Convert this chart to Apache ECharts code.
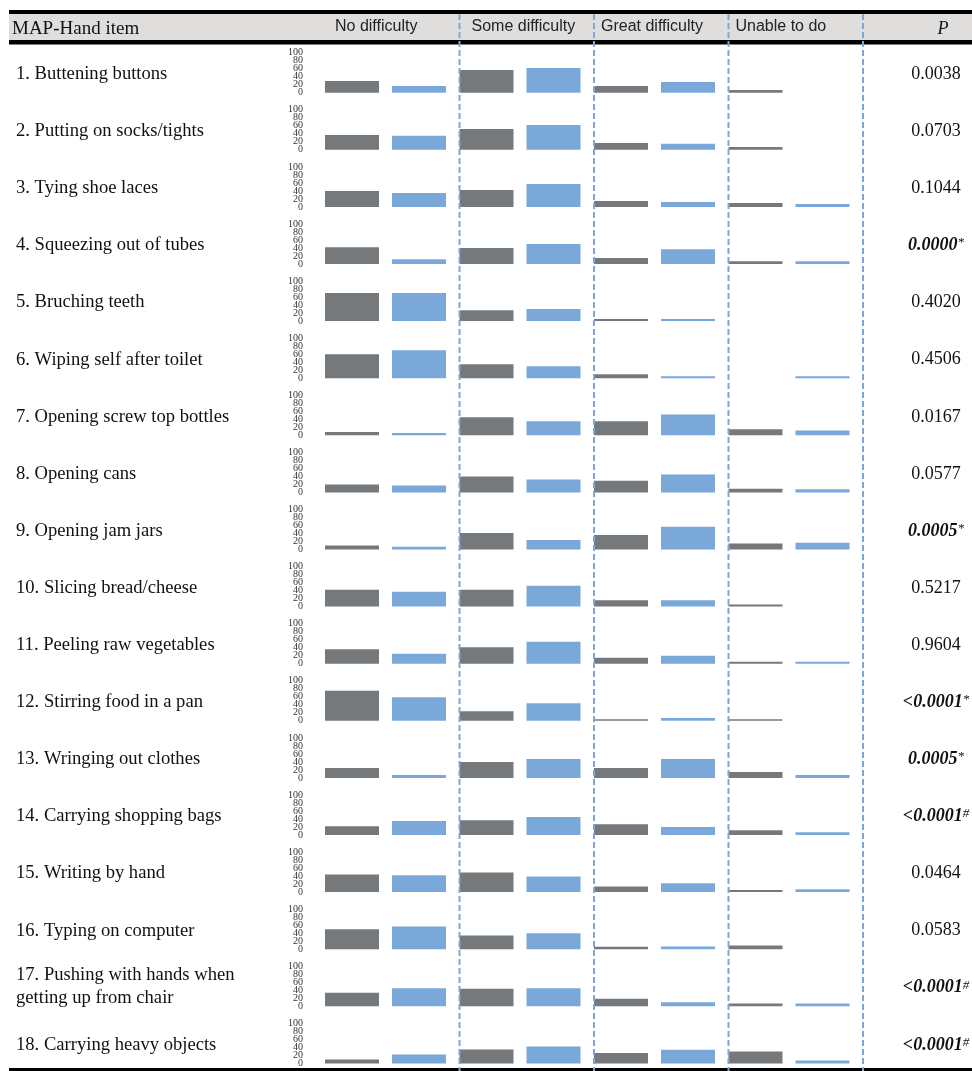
<!DOCTYPE html>
<html>
<head>
<meta charset="utf-8">
<script src="https://cdn.jsdelivr.net/npm/echarts@6/dist/echarts.min.js"></script>
<style>
  html, body { margin: 0; padding: 0; background: #fff; }
  #chart { width: 972px; height: 1071px; }
</style>
</head>
<body>
<div id="chart"></div>
<script>
// ---- data ----
const categories = ['No difficulty', 'Some difficulty', 'Great difficulty', 'Unable to do'];

const items = [
  '1. Buttening buttons',
  '2. Putting on socks/tights',
  '3. Tying shoe laces',
  '4. Squeezing out of tubes',
  '5. Bruching teeth',
  '6. Wiping self after toilet',
  '7. Opening screw top bottles',
  '8. Opening cans',
  '9. Opening jam jars',
  '10. Slicing bread/cheese',
  '11. Peeling raw vegetables',
  '12. Stirring food in a pan',
  '13. Wringing out clothes',
  '14. Carrying shopping bags',
  '15. Writing by hand',
  '16. Typing on computer',
  '17. Pushing with hands when\ngetting up from chair',
  '18. Carrying heavy objects'
];

// percentage per difficulty level, first group (grey)
const greyValues = [
  [29, 57, 17, 7],
  [37, 52, 17, 7],
  [40, 42, 15, 10],
  [42, 40, 15, 7],
  [70, 27, 5, 0],
  [60, 35, 10, 0],
  [8, 45, 35, 15],
  [20, 40, 29, 9],
  [10, 41, 36, 15],
  [42, 42, 16, 5],
  [36, 41, 15, 5],
  [75, 24, 4, 4],
  [25, 40, 25, 15],
  [22, 37, 27, 12],
  [44, 49, 14, 5],
  [50, 34, 6, 9],
  [34, 44, 19, 7],
  [10, 35, 26, 30]
];

// percentage per difficulty level, second group (blue)
const blueValues = [
  [17, 62, 27, 0],
  [35, 62, 15, 0],
  [35, 57, 12, 7],
  [12, 50, 37, 7],
  [70, 30, 5, 0],
  [70, 30, 5, 5],
  [6, 35, 52, 12],
  [17, 32, 45, 8],
  [7, 24, 57, 17],
  [37, 52, 16, 0],
  [25, 55, 20, 5],
  [59, 44, 7, 0],
  [7, 47, 47, 7],
  [35, 45, 20, 7],
  [42, 39, 22, 7],
  [57, 40, 7, 0],
  [45, 45, 10, 7],
  [22, 42, 34, 7]
];

const pValues = [
  '0.0038', '0.0703', '0.1044', '0.0000', '0.4020', '0.4506',
  '0.0167', '0.0577', '0.0005', '0.5217', '0.9604', '<0.0001',
  '0.0005', '<0.0001', '0.0464', '0.0583', '<0.0001', '<0.0001'
];
// significance marker ('' = not significant)
const pMarks = [
  '', '', '', '*', '', '',
  '', '', '*', '', '', '*',
  '*', '#', '', '', '#', '#'
];

const yTicks = [0, 20, 40, 60, 80, 100];

// ---- layout ----
const W = 972;
const TABLE_LEFT = 9;
const PLOT_LEFT = 325;        // left edge of first bar
const CELL = 134.5;           // width of one difficulty column
const BAR_W = 54;
const BAR_GAP = 13;
const FIRST_BASE = 92.7;      // zero line of first mini chart
const ROW_PITCH = 57.1;
const PLOT_H = 40;
const TICK_RIGHT = 303;       // right edge of the small tick labels
const GRID_LEFT = PLOT_LEFT - (CELL - (2 * BAR_W + BAR_GAP)) / 2;
const GREY = '#76797c';
const BLUE = '#7aa8d9';
const SERIF = '"Liberation Serif", "Times New Roman", serif';
const SANS = '"Liberation Sans", Arial, sans-serif';

const grids = [], xAxes = [], yAxes = [], series = [];
items.forEach(function (name, i) {
  const base = FIRST_BASE + i * ROW_PITCH;
  grids.push({ left: GRID_LEFT, top: base - PLOT_H, width: CELL * 4, height: PLOT_H });
  xAxes.push({
    type: 'category', gridIndex: i, data: categories,
    axisLine: { show: false }, axisTick: { show: false }, axisLabel: { show: false }
  });
  yAxes.push({
    type: 'value', gridIndex: i, min: yTicks[0], max: yTicks[yTicks.length - 1],
    interval: yTicks[1] - yTicks[0],
    axisLine: { show: false }, axisTick: { show: false }, splitLine: { show: false },
    axisLabel: { show: false }
  });
  series.push({
    type: 'bar', name: 'Group 1', xAxisIndex: i, yAxisIndex: i,
    data: greyValues[i], barWidth: BAR_W, barGap: (BAR_GAP / BAR_W * 100) + '%',
    itemStyle: { color: GREY }
  });
  series.push({
    type: 'bar', name: 'Group 2', xAxisIndex: i, yAxisIndex: i,
    data: blueValues[i], barWidth: BAR_W, barGap: (BAR_GAP / BAR_W * 100) + '%',
    itemStyle: { color: BLUE }
  });
});

const chart = echarts.init(document.getElementById('chart'), null, { renderer: 'canvas' });
chart.setOption({
  animation: false,
  backgroundColor: '#fff',
  grid: grids,
  xAxis: xAxes,
  yAxis: yAxes,
  series: series
});

// ---- table frame, headers, row labels, tick labels and P column ----
const graphics = [];
graphics.push({ type: 'rect', shape: { x: TABLE_LEFT, y: 14, width: W - TABLE_LEFT, height: 26 }, style: { fill: '#dfdedd' }, z: 1 });
graphics.push({ type: 'rect', shape: { x: TABLE_LEFT, y: 10, width: W - TABLE_LEFT, height: 4 }, style: { fill: '#000' }, z: 2 });
graphics.push({ type: 'rect', shape: { x: TABLE_LEFT, y: 40, width: W - TABLE_LEFT, height: 4.5 }, style: { fill: '#000' }, z: 2 });
graphics.push({ type: 'rect', shape: { x: TABLE_LEFT, y: 1068, width: W - TABLE_LEFT, height: 3 }, style: { fill: '#000' }, z: 2 });

for (let k = 1; k <= 4; k++) {
  const x = PLOT_LEFT + k * CELL;
  graphics.push({
    type: 'line', shape: { x1: x, y1: 14, x2: x, y2: 1071 },
    style: { stroke: BLUE, lineWidth: 2, lineDash: [6, 3] }, z: 10
  });
}

graphics.push({
  type: 'text', x: 12, y: 29, z: 5,
  style: { text: 'MAP-Hand item', font: '19px ' + SERIF, fill: '#111', align: 'left', verticalAlign: 'middle' }
});
const headerOffsets = [10, 12, 7, 7];
categories.forEach(function (c, k) {
  graphics.push({
    type: 'text', x: PLOT_LEFT + k * CELL + headerOffsets[k], y: 27, z: 5,
    style: { text: c, font: '16px ' + SANS, fill: '#222', align: 'left', verticalAlign: 'middle' }
  });
});
graphics.push({
  type: 'text', x: 943, y: 29, z: 5,
  style: { text: 'P', font: 'italic 18px ' + SERIF, fill: '#111', align: 'center', verticalAlign: 'middle' }
});

items.forEach(function (name, i) {
  // value-axis tick labels, placed through each mini chart's own y scale
  yTicks.forEach(function (v) {
    const py = chart.convertToPixel({ xAxisIndex: i, yAxisIndex: i }, [0, v])[1];
    graphics.push({
      type: 'text', x: TICK_RIGHT, y: py, z: 5,
      style: { text: String(v), font: '10px ' + SERIF, fill: '#333', align: 'right', verticalAlign: 'middle' }
    });
  });

  const cy = FIRST_BASE + i * ROW_PITCH - 18.5;
  const lines = name.split('\n');
  graphics.push({
    type: 'text', x: 16, y: lines.length > 1 ? cy - 1 : cy, z: 5,
    style: { text: name, font: '18.6px ' + SERIF, fill: '#111', align: 'left', verticalAlign: 'middle', lineHeight: 23 }
  });
  const sig = pMarks[i] !== '';
  graphics.push({
    type: 'text', x: 936, y: cy, z: 5,
    style: {
      text: sig ? '{v|' + pValues[i] + '}{s|' + pMarks[i] + '}' : '{n|' + pValues[i] + '}',
      align: 'center', verticalAlign: 'middle',
      rich: {
        n: { fontFamily: SERIF, fontSize: 18, fill: '#111', lineHeight: 20 },
        v: { fontFamily: SERIF, fontSize: 18, fontWeight: 'bold', fontStyle: 'italic', fill: '#111', lineHeight: 20 },
        s: { fontFamily: SERIF, fontSize: 13, fontStyle: 'italic', fill: '#111', verticalAlign: 'top', lineHeight: 20, padding: [1, 0, 0, 0] }
      }
    }
  });
});

chart.setOption({ graphic: graphics });
</script>
</body>
</html>
